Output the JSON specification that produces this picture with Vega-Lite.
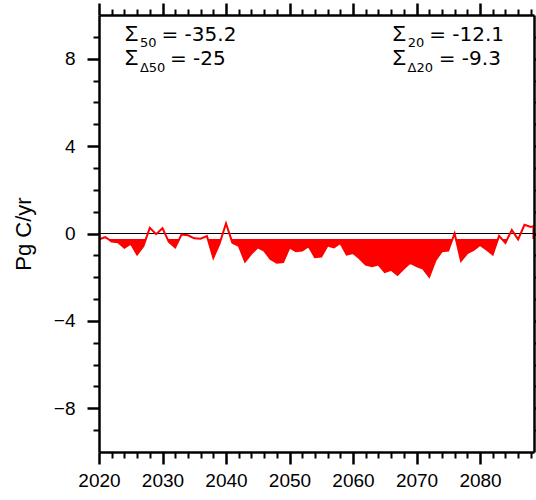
{
  "$schema": "https://vega.github.io/schema/vega-lite/v6.json",
  "width": 435,
  "height": 437,
  "autosize": "none",
  "padding": {"left": 99, "top": 15, "right": 2, "bottom": 48},
  "background": "white",
  "config": {
    "view": {"stroke": null},
    "axis": {
      "grid": false,
      "zindex": 1,
      "domainColor": "black",
      "tickColor": "black",
      "labelColor": "black",
      "titleColor": "black",
      "labelFont": "Liberation Sans",
      "titleFont": "Liberation Sans",
      "labelFontSize": 19,
      "titleFontSize": 22,
      "titleFontWeight": "normal"
    }
  },
  "data": {
    "values": [
      {"year": 2020, "value": -0.27}, {"year": 2021, "value": -0.17}, {"year": 2022, "value": -0.37},
      {"year": 2023, "value": -0.40}, {"year": 2024, "value": -0.65}, {"year": 2025, "value": -0.46},
      {"year": 2026, "value": -0.96}, {"year": 2027, "value": -0.57}, {"year": 2028, "value": 0.26},
      {"year": 2029, "value": -0.03}, {"year": 2030, "value": 0.24}, {"year": 2031, "value": -0.38},
      {"year": 2032, "value": -0.64}, {"year": 2033, "value": -0.05}, {"year": 2034, "value": -0.08},
      {"year": 2035, "value": -0.22}, {"year": 2036, "value": -0.24}, {"year": 2037, "value": -0.12},
      {"year": 2038, "value": -1.11}, {"year": 2039, "value": -0.45}, {"year": 2040, "value": 0.46},
      {"year": 2041, "value": -0.42}, {"year": 2042, "value": -0.56}, {"year": 2043, "value": -1.28},
      {"year": 2044, "value": -0.92}, {"year": 2045, "value": -0.63}, {"year": 2046, "value": -0.78},
      {"year": 2047, "value": -1.17}, {"year": 2048, "value": -1.34}, {"year": 2049, "value": -1.31},
      {"year": 2050, "value": -0.64}, {"year": 2051, "value": -0.81}, {"year": 2052, "value": -0.78},
      {"year": 2053, "value": -0.58}, {"year": 2054, "value": -1.08}, {"year": 2055, "value": -1.06},
      {"year": 2056, "value": -0.55}, {"year": 2057, "value": -0.64}, {"year": 2058, "value": -0.43},
      {"year": 2059, "value": -0.96}, {"year": 2060, "value": -0.89}, {"year": 2061, "value": -1.13},
      {"year": 2062, "value": -1.42}, {"year": 2063, "value": -1.50}, {"year": 2064, "value": -1.42},
      {"year": 2065, "value": -1.77}, {"year": 2066, "value": -1.66}, {"year": 2067, "value": -1.90},
      {"year": 2068, "value": -1.60}, {"year": 2069, "value": -1.34}, {"year": 2070, "value": -1.49},
      {"year": 2071, "value": -1.60}, {"year": 2072, "value": -1.98}, {"year": 2073, "value": -1.22},
      {"year": 2074, "value": -0.81}, {"year": 2075, "value": -0.78}, {"year": 2076, "value": 0.00},
      {"year": 2077, "value": -1.25}, {"year": 2078, "value": -0.90}, {"year": 2079, "value": -0.75},
      {"year": 2080, "value": -0.52}, {"year": 2081, "value": -0.73}, {"year": 2082, "value": -0.96},
      {"year": 2083, "value": -0.11}, {"year": 2084, "value": -0.43}, {"year": 2085, "value": 0.16},
      {"year": 2086, "value": -0.27}, {"year": 2087, "value": 0.40}, {"year": 2088, "value": 0.30},
      {"year": 2089, "value": 0.38}
    ]
  },
  "resolve": {"axis": {"x": "independent", "y": "independent"}},
  "layer": [
    {
      "mark": {"type": "area", "color": "#ff0000", "opacity": 1, "clip": true},
      "encoding": {
        "x": {
          "field": "year", "type": "quantitative",
          "scale": {"domain": [2020, 2088.5], "nice": false, "zero": false},
          "axis": {
            "orient": "bottom", "values": [2020, 2030, 2040, 2050, 2060, 2070, 2080],
            "format": "d", "tickSize": 12, "tickWidth": 2.5, "labelPadding": 7, "zindex": 2,
            "labelFlush": false, "labelOverlap": false, "domainWidth": 2.5, "title": null
          }
        },
        "y": {
          "field": "value", "type": "quantitative",
          "scale": {"domain": [-10, 10], "nice": false, "zero": false},
          "axis": {
            "orient": "left", "values": [-8, -4, 0, 4, 8], "zindex": 2,
            "tickSize": 12, "tickWidth": 2.5, "labelPadding": 12, "domainWidth": 2.5,
            "title": "Pg C/yr", "titlePadding": 18
          }
        },
        "y2": {"datum": -0.25}
      }
    },
    {
      "data": {"values": [{}]},
      "mark": {"type": "rect", "color": "white"},
      "encoding": {
        "x": {
          "datum": 2020.25, "type": "quantitative",
          "scale": {"domain": [2020, 2088.5], "nice": false, "zero": false},
          "axis": {
            "orient": "bottom", "zindex": 2,
            "values": [2022, 2024, 2026, 2028, 2032, 2034, 2036, 2038, 2042, 2044, 2046, 2048, 2052, 2054, 2056, 2058, 2062, 2064, 2066, 2068, 2072, 2074, 2076, 2078, 2082, 2084, 2086, 2088],
            "tickSize": 6, "tickWidth": 2, "labels": false, "domain": false, "title": null
          }
        },
        "x2": {"datum": 2088.25},
        "y": {
          "datum": -0.25, "type": "quantitative",
          "scale": {"domain": [-10, 10], "nice": false, "zero": false},
          "axis": {
            "orient": "left", "zindex": 2,
            "values": [-9, -7, -6, -5, -3, -2, -1, 1, 2, 3, 5, 6, 7, 9],
            "tickSize": 6, "tickWidth": 2, "labels": false, "domain": false, "title": null
          }
        },
        "y2": {"datum": 9.94}
      }
    },
    {
      "data": {"values": [{}]},
      "mark": {"type": "rule", "color": "black", "strokeWidth": 1.2},
      "encoding": {
        "y": {"datum": 0, "type": "quantitative", "axis": null}
      }
    },
    {
      "mark": {"type": "line", "color": "#ff0000", "strokeWidth": 2, "clip": true},
      "encoding": {
        "x": {
          "field": "year", "type": "quantitative",
          "axis": {
            "orient": "top", "values": [2020, 2030, 2040, 2050, 2060, 2070, 2080], "zindex": 2,
            "tickSize": 12, "tickWidth": 2.5, "labels": false, "domainWidth": 2.5, "title": null
          }
        },
        "y": {
          "field": "value", "type": "quantitative",
          "axis": {
            "orient": "right", "values": [-8, -4, 0, 4, 8], "zindex": 2,
            "tickSize": 12, "tickWidth": 2.5, "labels": false, "domainWidth": 2.5, "title": null
          }
        }
      }
    },
    {
      "data": {"values": [{}]},
      "mark": {"type": "text", "align": "left", "baseline": "alphabetic", "font": "Liberation Sans", "fontSize": 22, "color": "black"},
      "encoding": {
        "x": {
          "datum": 2024.05, "type": "quantitative",
          "axis": {
            "orient": "top", "zindex": 2,
            "values": [2022, 2024, 2026, 2028, 2032, 2034, 2036, 2038, 2042, 2044, 2046, 2048, 2052, 2054, 2056, 2058, 2062, 2064, 2066, 2068, 2072, 2074, 2076, 2078, 2082, 2084, 2086, 2088],
            "tickSize": 6, "tickWidth": 2, "labels": false, "domain": false, "title": null
          }
        },
        "y": {
          "datum": 8.82, "type": "quantitative",
          "axis": {
            "orient": "right", "zindex": 2,
            "values": [-9, -7, -6, -5, -3, -2, -1, 1, 2, 3, 5, 6, 7, 9],
            "tickSize": 6, "tickWidth": 2, "labels": false, "domain": false, "title": null
          }
        },
        "text": {"value": "Σ"}
      }
    },
    {
      "data": {"values": [{}]},
      "mark": {"type": "text", "align": "left", "baseline": "alphabetic", "font": "DejaVu Sans", "fontSize": 13, "color": "black"},
      "encoding": {
        "x": {"datum": 2026.45, "type": "quantitative", "axis": null},
        "y": {"datum": 8.52, "type": "quantitative", "axis": null},
        "text": {"value": "50"}
      }
    },
    {
      "data": {"values": [{}]},
      "mark": {"type": "text", "align": "left", "baseline": "alphabetic", "font": "DejaVu Sans", "fontSize": 20, "color": "black"},
      "encoding": {
        "x": {"datum": 2029.84, "type": "quantitative", "axis": null},
        "y": {"datum": 8.82, "type": "quantitative", "axis": null},
        "text": {"value": "= -35.2"}
      }
    },
    {
      "data": {"values": [{}]},
      "mark": {"type": "text", "align": "left", "baseline": "alphabetic", "font": "Liberation Sans", "fontSize": 22, "color": "black"},
      "encoding": {
        "x": {"datum": 2024.05, "type": "quantitative", "axis": null},
        "y": {"datum": 7.72, "type": "quantitative", "axis": null},
        "text": {"value": "Σ"}
      }
    },
    {
      "data": {"values": [{}]},
      "mark": {"type": "text", "align": "left", "baseline": "alphabetic", "font": "DejaVu Sans", "fontSize": 13, "color": "black"},
      "encoding": {
        "x": {"datum": 2026.45, "type": "quantitative", "axis": null},
        "y": {"datum": 7.39, "type": "quantitative", "axis": null},
        "text": {"value": "Δ50"}
      }
    },
    {
      "data": {"values": [{}]},
      "mark": {"type": "text", "align": "left", "baseline": "alphabetic", "font": "DejaVu Sans", "fontSize": 20, "color": "black"},
      "encoding": {
        "x": {"datum": 2031.18, "type": "quantitative", "axis": null},
        "y": {"datum": 7.72, "type": "quantitative", "axis": null},
        "text": {"value": "= -25"}
      }
    },
    {
      "data": {"values": [{}]},
      "mark": {"type": "text", "align": "left", "baseline": "alphabetic", "font": "Liberation Sans", "fontSize": 22, "color": "black"},
      "encoding": {
        "x": {"datum": 2066.22, "type": "quantitative", "axis": null},
        "y": {"datum": 8.82, "type": "quantitative", "axis": null},
        "text": {"value": "Σ"}
      }
    },
    {
      "data": {"values": [{}]},
      "mark": {"type": "text", "align": "left", "baseline": "alphabetic", "font": "DejaVu Sans", "fontSize": 13, "color": "black"},
      "encoding": {
        "x": {"datum": 2068.6, "type": "quantitative", "axis": null},
        "y": {"datum": 8.52, "type": "quantitative", "axis": null},
        "text": {"value": "20"}
      }
    },
    {
      "data": {"values": [{}]},
      "mark": {"type": "text", "align": "left", "baseline": "alphabetic", "font": "DejaVu Sans", "fontSize": 20, "color": "black"},
      "encoding": {
        "x": {"datum": 2072.0, "type": "quantitative", "axis": null},
        "y": {"datum": 8.82, "type": "quantitative", "axis": null},
        "text": {"value": "= -12.1"}
      }
    },
    {
      "data": {"values": [{}]},
      "mark": {"type": "text", "align": "left", "baseline": "alphabetic", "font": "Liberation Sans", "fontSize": 22, "color": "black"},
      "encoding": {
        "x": {"datum": 2066.22, "type": "quantitative", "axis": null},
        "y": {"datum": 7.72, "type": "quantitative", "axis": null},
        "text": {"value": "Σ"}
      }
    },
    {
      "data": {"values": [{}]},
      "mark": {"type": "text", "align": "left", "baseline": "alphabetic", "font": "DejaVu Sans", "fontSize": 13, "color": "black"},
      "encoding": {
        "x": {"datum": 2068.58, "type": "quantitative", "axis": null},
        "y": {"datum": 7.39, "type": "quantitative", "axis": null},
        "text": {"value": "Δ20"}
      }
    },
    {
      "data": {"values": [{}]},
      "mark": {"type": "text", "align": "left", "baseline": "alphabetic", "font": "DejaVu Sans", "fontSize": 20, "color": "black"},
      "encoding": {
        "x": {"datum": 2073.5, "type": "quantitative", "axis": null},
        "y": {"datum": 7.72, "type": "quantitative", "axis": null},
        "text": {"value": "= -9.3"}
      }
    }
  ]
}
